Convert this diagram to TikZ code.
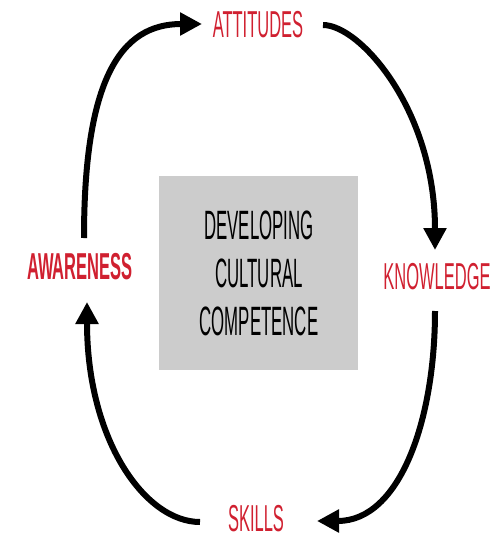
\documentclass[tikz,border=0pt]{standalone}
\usepackage{fontspec}
\usetikzlibrary{arrows.meta}
\newfontfamily\condfont[FakeStretch=0.44]{Liberation Sans}
\newfontfamily\boxfont[FakeStretch=0.41]{Liberation Sans}
\definecolor{labelred}{RGB}{208,32,48}
\definecolor{boxgray}{RGB}{204,204,204}
\tikzset{
  lbl/.style={font=\condfont\fontsize{37.5}{44}\selectfont, text=labelred, anchor=base, inner sep=0pt, text depth=0pt},
  lblbold/.style={lbl, font=\condfont\bfseries\fontsize{37.5}{44}\selectfont},
  centerbox/.style={fill=boxgray, draw=none, minimum width=199pt, minimum height=194pt, inner sep=0pt},
  boxtext/.style={font=\boxfont\fontsize{41}{48}\selectfont, anchor=base, inner sep=0pt},
  cyc/.style={line width=6pt, -{Triangle[length=22pt,width=22pt]}}
}
\begin{document}
\begin{tikzpicture}[x=1pt,y=-1pt]
\useasboundingbox (0,0) rectangle (502,540);
% centre box
\node[centerbox] (box) at (258.5,273) {};
\node[boxtext] (t1) at (259,239) {DEVELOPING};
\node[boxtext] (t2) at (259,287) {CULTURAL};
\node[boxtext] (t3) at (259,335) {COMPETENCE};
% labels
\node[lbl] (att) at (258,38) {ATTITUDES};
\node[lbl] (kno) at (437,289) {KNOWLEDGE};
\node[lbl] (ski) at (256,531) {SKILLS};
\node[lblbold] (awa) at (80,279) {AWARENESS};
% connector end points
\coordinate (awaOut) at (84,238);
\coordinate (attIn) at (202,24);
\coordinate (attOut) at (323,25);
\coordinate (knoIn) at (435,250);
\coordinate (knoOut) at (435,311);
\coordinate (skiIn) at (317,521);
\coordinate (skiOut) at (200,522);
\coordinate (awaIn) at (87,302);
% cycle arrows
\draw[cyc] (awaOut) .. controls (84,80) and (120,24) .. (attIn);
\draw[cyc] (attOut) .. controls (360,25) and (435,110) .. (knoIn);
\draw[cyc] (knoOut) .. controls (435,420) and (400,521) .. (skiIn);
\draw[cyc] (skiOut) .. controls (145,522) and (87,440) .. (awaIn);
\end{tikzpicture}
\end{document}
